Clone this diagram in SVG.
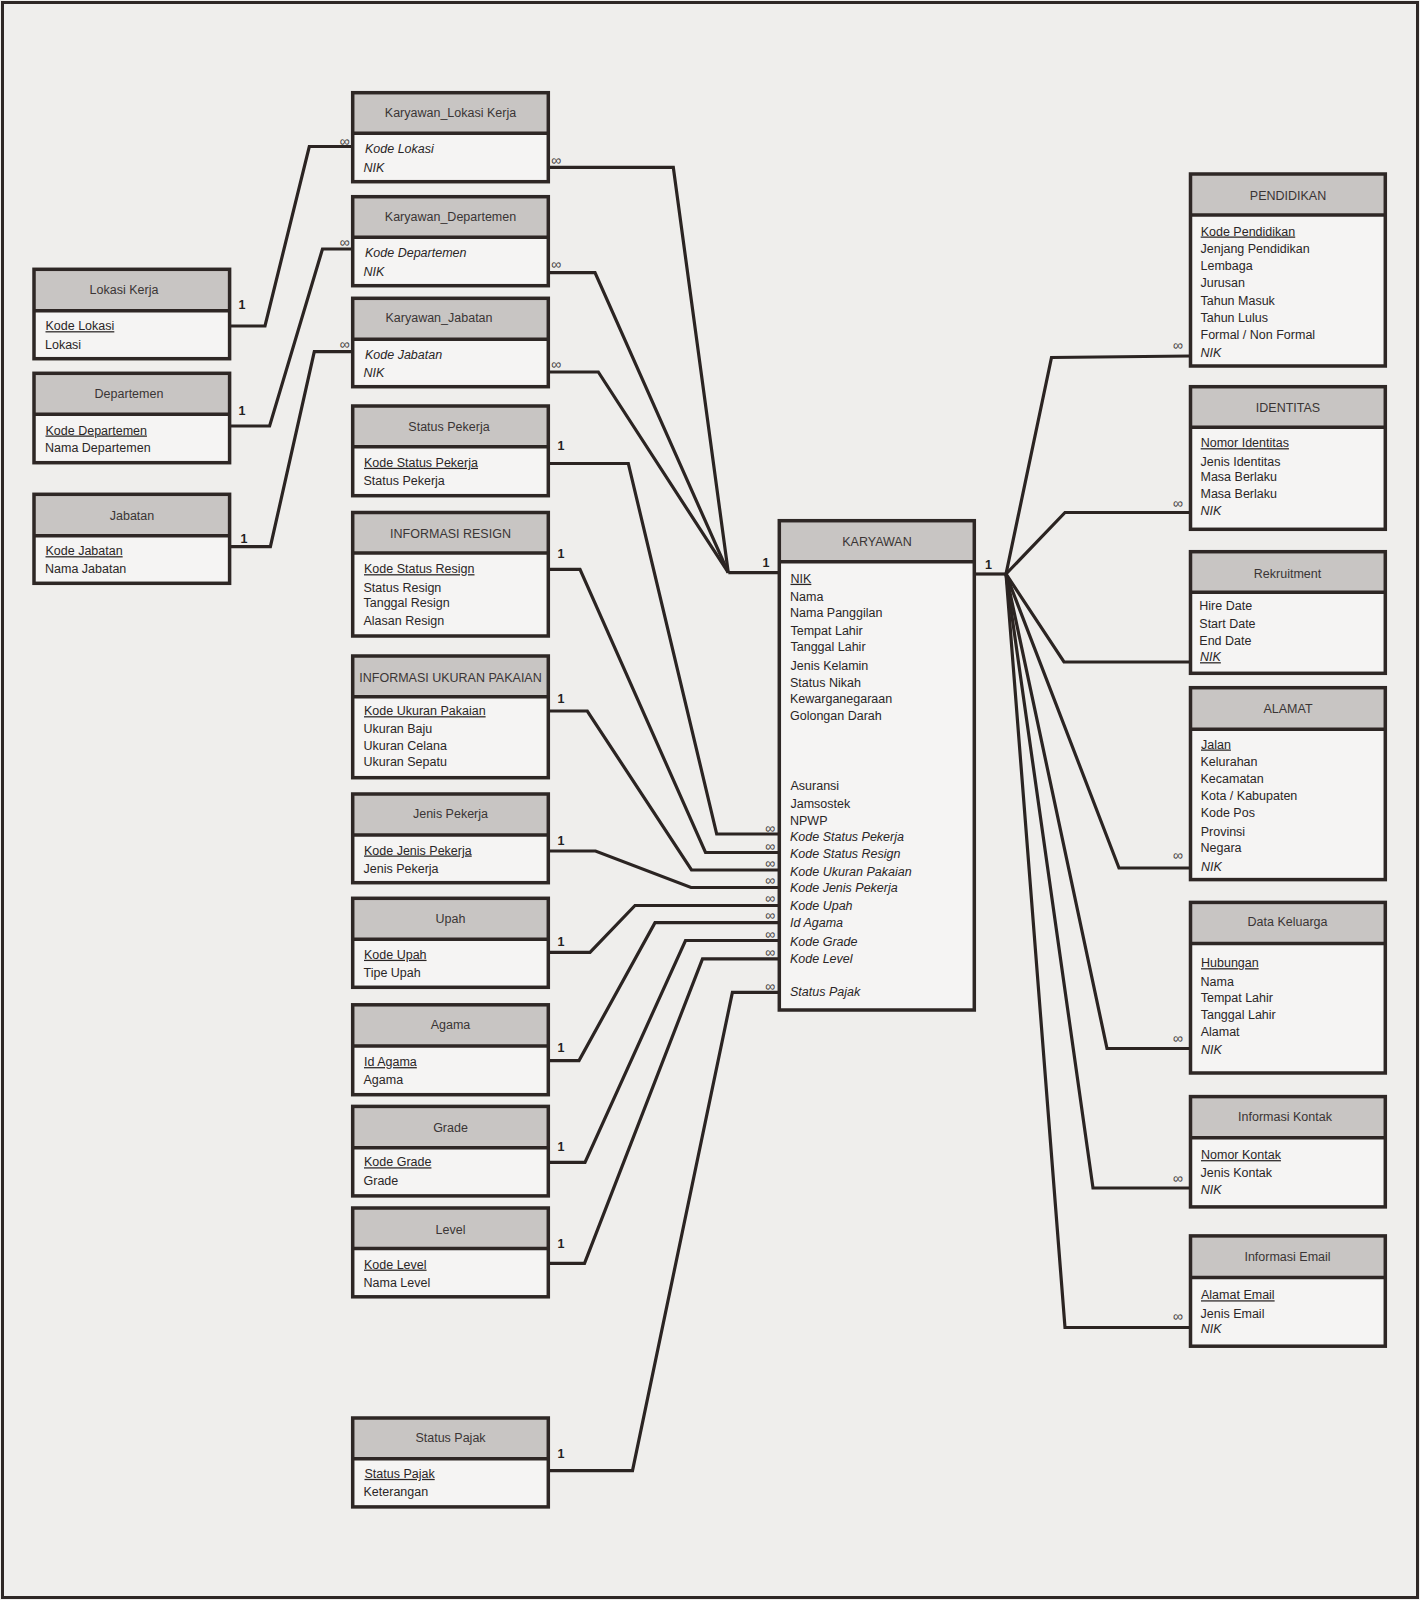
<svg xmlns="http://www.w3.org/2000/svg" width="1420" height="1600" viewBox="0 0 1420 1600">
<style>
.bg{fill:#efeeec}
.frame{fill:none;stroke:#2e2725;stroke-width:3}
.body{fill:#f5f4f3}
.hd{fill:#c8c5c3}
.ol{fill:none;stroke:#2e2725;stroke-width:3.5}
.dv{stroke:#2e2725;stroke-width:3.5}
text{font-family:"Liberation Sans",Arial,sans-serif;font-size:12.5px;fill:#2a2626}
.h{fill:#3a3535;text-anchor:middle}
.i{font-style:italic}
.u{text-decoration:underline}
.c{fill:none;stroke:#2b2422;stroke-width:3.2;stroke-linejoin:miter}
.one{font-weight:bold;font-size:12.5px;text-anchor:middle;fill:#222}
.inf{font-family:"Liberation Sans",Arial,sans-serif;font-size:14px;text-anchor:middle;fill:#4a4545}
</style>
<rect class="bg" x="0" y="0" width="1420" height="1600"/>
<rect class="frame" x="2.5" y="2.5" width="1415" height="1595"/>

<g id="connectors">
<polyline class="c" points="229.6,326 265,326 309.3,146.5 352.7,146.5"/>
<polyline class="c" points="229.6,426 269.6,426 322.5,249 352.7,249"/>
<polyline class="c" points="229.6,546.7 270.4,546.7 314.3,351.7 352.7,351.7"/>
<polyline class="c" points="548.3,167.3 673.3,167.3 728.3,572.7"/>
<polyline class="c" points="548.3,272.7 595,272.7 728.3,572.7"/>
<polyline class="c" points="548.3,372 598.3,372 728.3,572.7"/>
<polyline class="c" points="728.3,572.7 779.3,572.7"/>
<polyline class="c" points="548.3,463.5 628.3,463.5 716.7,834 779.3,834"/>
<polyline class="c" points="548.3,569.3 580,569.3 705.5,852.5 779.3,852.5"/>
<polyline class="c" points="548.3,711 587.3,711 691.5,870 779.3,870"/>
<polyline class="c" points="548.3,851 595.5,851 691,887.5 779.3,887.5"/>
<polyline class="c" points="548.3,952.3 590,952.3 635,905.5 779.3,905.5"/>
<polyline class="c" points="548.3,1060.6 579,1060.6 655,922.7 779.3,922.7"/>
<polyline class="c" points="548.3,1162.3 585,1162.3 685.5,940.5 779.3,940.5"/>
<polyline class="c" points="548.3,1263.3 584.5,1263.3 702.5,958.8 779.3,958.8"/>
<polyline class="c" points="548.3,1470.7 632.5,1470.7 732.4,992.3 779.3,992.3"/>
<polyline class="c" points="974.3,574 1006,574"/>
<polyline class="c" points="1006,574 1051.5,357.5 1190.5,356"/>
<polyline class="c" points="1006,574 1065,512.5 1190.5,512.5"/>
<polyline class="c" points="1006,574 1064,662 1190.5,662"/>
<polyline class="c" points="1006,574 1119,868 1190.5,868"/>
<polyline class="c" points="1006,574 1107,1048.5 1190.5,1048.5"/>
<polyline class="c" points="1006,574 1093,1188 1190.5,1188"/>
<polyline class="c" points="1006,574 1065,1327.5 1190.5,1327.5"/>
<text class="one" x="242" y="308.5">1</text>
<text class="one" x="242" y="414.5">1</text>
<text class="one" x="244" y="542.5">1</text>
<text class="inf" x="344.6" y="146">∞</text>
<text class="inf" x="344.6" y="246.5">∞</text>
<text class="inf" x="344.6" y="348.5">∞</text>
<text class="inf" x="556" y="164.5">∞</text>
<text class="inf" x="556" y="268.5">∞</text>
<text class="inf" x="556" y="368.5">∞</text>
<text class="one" x="561" y="450">1</text>
<text class="one" x="561" y="557.5">1</text>
<text class="one" x="561" y="703">1</text>
<text class="one" x="561" y="845">1</text>
<text class="one" x="561" y="945.5">1</text>
<text class="one" x="561" y="1051.5">1</text>
<text class="one" x="561" y="1150.5">1</text>
<text class="one" x="561" y="1247.5">1</text>
<text class="one" x="561" y="1457.5">1</text>
<text class="one" x="766" y="567">1</text>
<text class="one" x="988.5" y="568.5">1</text>
<text class="inf" x="770" y="832.5">∞</text>
<text class="inf" x="770" y="851">∞</text>
<text class="inf" x="770" y="868">∞</text>
<text class="inf" x="770" y="884.5">∞</text>
<text class="inf" x="770" y="902.5">∞</text>
<text class="inf" x="770" y="920">∞</text>
<text class="inf" x="770" y="939">∞</text>
<text class="inf" x="770" y="957">∞</text>
<text class="inf" x="770" y="990.5">∞</text>
<text class="inf" x="1177.7" y="350">∞</text>
<text class="inf" x="1177.7" y="507.5">∞</text>
<text class="inf" x="1177.7" y="859.5">∞</text>
<text class="inf" x="1177.7" y="1043">∞</text>
<text class="inf" x="1177.7" y="1182.5">∞</text>
<text class="inf" x="1177.7" y="1320.5">∞</text>
</g>

<g id="lokasi-kerja">
<rect class="body" x="34" y="269.3" width="195.6" height="89.4"/>
<rect class="hd" x="34" y="269.3" width="195.6" height="41.4"/>
<line class="dv" x1="34" y1="310.7" x2="229.6" y2="310.7"/>
<rect class="ol" x="34" y="269.3" width="195.6" height="89.4"/>
<text class="h" x="124" y="294">Lokasi Kerja</text>
<text class="u" x="45.5" y="330.2">Kode Lokasi</text>
<text x="45" y="348.5">Lokasi</text>
</g>

<g id="departemen">
<rect class="body" x="34" y="373.3" width="195.6" height="89.4"/>
<rect class="hd" x="34" y="373.3" width="195.6" height="41"/>
<line class="dv" x1="34" y1="414.3" x2="229.6" y2="414.3"/>
<rect class="ol" x="34" y="373.3" width="195.6" height="89.4"/>
<text class="h" x="129" y="398">Departemen</text>
<text class="u" x="45.5" y="434.5">Kode Departemen</text>
<text x="45" y="452.2">Nama Departemen</text>
</g>

<g id="jabatan">
<rect class="body" x="34" y="494.3" width="195.6" height="89"/>
<rect class="hd" x="34" y="494.3" width="195.6" height="41.4"/>
<line class="dv" x1="34" y1="535.7" x2="229.6" y2="535.7"/>
<rect class="ol" x="34" y="494.3" width="195.6" height="89"/>
<text class="h" x="132" y="519.5">Jabatan</text>
<text class="u" x="45.5" y="555.2">Kode Jabatan</text>
<text x="45" y="573.2">Nama Jabatan</text>
</g>

<g id="karyawan-lokasi-kerja">
<rect class="body" x="352.7" y="92.7" width="195.6" height="89"/>
<rect class="hd" x="352.7" y="92.7" width="195.6" height="40.6"/>
<line class="dv" x1="352.7" y1="133.3" x2="548.3" y2="133.3"/>
<rect class="ol" x="352.7" y="92.7" width="195.6" height="89"/>
<text class="h" x="450.5" y="117.2">Karyawan_Lokasi Kerja</text>
<text class="i" x="365" y="153.2">Kode Lokasi</text>
<text class="i" x="363.5" y="171.5">NIK</text>
</g>

<g id="karyawan-departemen">
<rect class="body" x="352.7" y="196.7" width="195.6" height="89"/>
<rect class="hd" x="352.7" y="196.7" width="195.6" height="40.6"/>
<line class="dv" x1="352.7" y1="237.3" x2="548.3" y2="237.3"/>
<rect class="ol" x="352.7" y="196.7" width="195.6" height="89"/>
<text class="h" x="450.5" y="221.2">Karyawan_Departemen</text>
<text class="i" x="365" y="257.2">Kode Departemen</text>
<text class="i" x="363.5" y="275.5">NIK</text>
</g>

<g id="karyawan-jabatan">
<rect class="body" x="352.7" y="298.3" width="195.6" height="88.4"/>
<rect class="hd" x="352.7" y="298.3" width="195.6" height="41"/>
<line class="dv" x1="352.7" y1="339.3" x2="548.3" y2="339.3"/>
<rect class="ol" x="352.7" y="298.3" width="195.6" height="88.4"/>
<text class="h" x="439" y="322.2">Karyawan_Jabatan</text>
<text class="i" x="365" y="358.5">Kode Jabatan</text>
<text class="i" x="363.5" y="376.5">NIK</text>
</g>

<g id="status-pekerja">
<rect class="body" x="352.7" y="406" width="195.6" height="89.7"/>
<rect class="hd" x="352.7" y="406" width="195.6" height="40.7"/>
<line class="dv" x1="352.7" y1="446.7" x2="548.3" y2="446.7"/>
<rect class="ol" x="352.7" y="406" width="195.6" height="89.7"/>
<text class="h" x="449" y="430.5">Status Pekerja</text>
<text class="u" x="364" y="466.8">Kode Status Pekerja</text>
<text x="363.5" y="484.5">Status Pekerja</text>
</g>

<g id="informasi-resign">
<rect class="body" x="352.7" y="512.5" width="195.6" height="123.5"/>
<rect class="hd" x="352.7" y="512.5" width="195.6" height="40.5"/>
<line class="dv" x1="352.7" y1="553" x2="548.3" y2="553"/>
<rect class="ol" x="352.7" y="512.5" width="195.6" height="123.5"/>
<text class="h" x="450.5" y="537.8">INFORMASI RESIGN</text>
<text class="u" x="364" y="573.2">Kode Status Resign</text>
<text x="363.5" y="591.8">Status Resign</text>
<text x="363.5" y="607.2">Tanggal Resign</text>
<text x="363.5" y="624.5">Alasan Resign</text>
</g>

<g id="informasi-ukuran-pakaian">
<rect class="body" x="352.7" y="656" width="195.6" height="121.7"/>
<rect class="hd" x="352.7" y="656" width="195.6" height="40.7"/>
<line class="dv" x1="352.7" y1="696.7" x2="548.3" y2="696.7"/>
<rect class="ol" x="352.7" y="656" width="195.6" height="121.7"/>
<text class="h" x="450.5" y="681.8">INFORMASI UKURAN PAKAIAN</text>
<text class="u" x="364" y="715.2">Kode Ukuran Pakaian</text>
<text x="363.5" y="733.2">Ukuran Baju</text>
<text x="363.5" y="749.5">Ukuran Celana</text>
<text x="363.5" y="766.2">Ukuran Sepatu</text>
</g>

<g id="jenis-pekerja">
<rect class="body" x="352.7" y="794" width="195.6" height="88.7"/>
<rect class="hd" x="352.7" y="794" width="195.6" height="41"/>
<line class="dv" x1="352.7" y1="835" x2="548.3" y2="835"/>
<rect class="ol" x="352.7" y="794" width="195.6" height="88.7"/>
<text class="h" x="450.5" y="817.8">Jenis Pekerja</text>
<text class="u" x="364" y="854.5">Kode Jenis Pekerja</text>
<text x="363.5" y="872.8">Jenis Pekerja</text>
</g>

<g id="upah">
<rect class="body" x="352.7" y="898.3" width="195.6" height="89"/>
<rect class="hd" x="352.7" y="898.3" width="195.6" height="41"/>
<line class="dv" x1="352.7" y1="939.3" x2="548.3" y2="939.3"/>
<rect class="ol" x="352.7" y="898.3" width="195.6" height="89"/>
<text class="h" x="450.5" y="922.8">Upah</text>
<text class="u" x="364" y="958.8">Kode Upah</text>
<text x="363.5" y="977.2">Tipe Upah</text>
</g>

<g id="agama">
<rect class="body" x="352.7" y="1004.8" width="195.6" height="89.9"/>
<rect class="hd" x="352.7" y="1004.8" width="195.6" height="41.3"/>
<line class="dv" x1="352.7" y1="1046.1" x2="548.3" y2="1046.1"/>
<rect class="ol" x="352.7" y="1004.8" width="195.6" height="89.9"/>
<text class="h" x="450.5" y="1029.3">Agama</text>
<text class="u" x="364" y="1066.1">Id Agama</text>
<text x="363.5" y="1083.7">Agama</text>
</g>

<g id="grade">
<rect class="body" x="352.7" y="1106.4" width="195.6" height="89.5"/>
<rect class="hd" x="352.7" y="1106.4" width="195.6" height="41.3"/>
<line class="dv" x1="352.7" y1="1147.7" x2="548.3" y2="1147.7"/>
<rect class="ol" x="352.7" y="1106.4" width="195.6" height="89.5"/>
<text class="h" x="450.5" y="1131.9">Grade</text>
<text class="u" x="364" y="1166.3">Kode Grade</text>
<text x="363.5" y="1184.9">Grade</text>
</g>

<g id="level">
<rect class="body" x="352.7" y="1208" width="195.6" height="88.8"/>
<rect class="hd" x="352.7" y="1208" width="195.6" height="40.6"/>
<line class="dv" x1="352.7" y1="1248.6" x2="548.3" y2="1248.6"/>
<rect class="ol" x="352.7" y="1208" width="195.6" height="88.8"/>
<text class="h" x="450.5" y="1233.5">Level</text>
<text class="u" x="364" y="1268.6">Kode Level</text>
<text x="363.5" y="1286.5">Nama Level</text>
</g>

<g id="status-pajak">
<rect class="body" x="352.7" y="1418" width="195.6" height="88.9"/>
<rect class="hd" x="352.7" y="1418" width="195.6" height="40.7"/>
<line class="dv" x1="352.7" y1="1458.7" x2="548.3" y2="1458.7"/>
<rect class="ol" x="352.7" y="1418" width="195.6" height="88.9"/>
<text class="h" x="450.5" y="1441.8">Status Pajak</text>
<text class="u" x="364.5" y="1477.9">Status Pajak</text>
<text x="363.5" y="1495.9">Keterangan</text>
</g>

<g id="karyawan">
<rect class="body" x="779.3" y="520.7" width="195" height="489.3"/>
<rect class="hd" x="779.3" y="520.7" width="195" height="41"/>
<line class="dv" x1="779.3" y1="561.7" x2="974.3" y2="561.7"/>
<rect class="ol" x="779.3" y="520.7" width="195" height="489.3"/>
<text class="h" x="877" y="546.2">KARYAWAN</text>
<text class="u" x="790.5" y="582.8">NIK</text>
<text x="790" y="601.2">Nama</text>
<text x="790" y="616.5">Nama Panggilan</text>
<text x="790.5" y="634.5">Tempat Lahir</text>
<text x="790.5" y="651.2">Tanggal Lahir</text>
<text x="790.5" y="670.2">Jenis Kelamin</text>
<text x="790" y="687.2">Status Nikah</text>
<text x="790" y="702.8">Kewarganegaraan</text>
<text x="790" y="719.8">Golongan Darah</text>
<text x="790.5" y="790.2">Asuransi</text>
<text x="790.5" y="807.8">Jamsostek</text>
<text x="790" y="825.2">NPWP</text>
<text class="i" x="790" y="841.2">Kode Status Pekerja</text>
<text class="i" x="790" y="857.8">Kode Status Resign</text>
<text class="i" x="790" y="876.2">Kode Ukuran Pakaian</text>
<text class="i" x="790" y="892.2">Kode Jenis Pekerja</text>
<text class="i" x="790" y="910.2">Kode Upah</text>
<text class="i" x="790" y="926.8">Id Agama</text>
<text class="i" x="790" y="945.5">Kode Grade</text>
<text class="i" x="790" y="962.8">Kode Level</text>
<text class="i" x="790" y="996.2">Status Pajak</text>
</g>

<g id="pendidikan">
<rect class="body" x="1190.5" y="174" width="194.8" height="192"/>
<rect class="hd" x="1190.5" y="174" width="194.8" height="41"/>
<line class="dv" x1="1190.5" y1="215" x2="1385.3" y2="215"/>
<rect class="ol" x="1190.5" y="174" width="194.8" height="192"/>
<text class="h" x="1288" y="199.5">PENDIDIKAN</text>
<text class="u" x="1200.7" y="235.5">Kode Pendidikan</text>
<text x="1200.5" y="253.2">Jenjang Pendidikan</text>
<text x="1200.5" y="269.8">Lembaga</text>
<text x="1200.5" y="287.2">Jurusan</text>
<text x="1200.5" y="304.5">Tahun Masuk</text>
<text x="1200.5" y="322.2">Tahun Lulus</text>
<text x="1200.5" y="338.5">Formal / Non Formal</text>
<text class="i" x="1200.5" y="356.8">NIK</text>
</g>

<g id="identitas">
<rect class="body" x="1190.5" y="386.7" width="194.8" height="142.6"/>
<rect class="hd" x="1190.5" y="386.7" width="194.8" height="40.6"/>
<line class="dv" x1="1190.5" y1="427.3" x2="1385.3" y2="427.3"/>
<rect class="ol" x="1190.5" y="386.7" width="194.8" height="142.6"/>
<text class="h" x="1288" y="411.8">IDENTITAS</text>
<text class="u" x="1200.7" y="447.2">Nomor Identitas</text>
<text x="1200.5" y="465.5">Jenis Identitas</text>
<text x="1200.5" y="481.2">Masa Berlaku</text>
<text x="1200.5" y="497.8">Masa Berlaku</text>
<text class="i" x="1200.5" y="515.2">NIK</text>
</g>

<g id="rekruitment">
<rect class="body" x="1190.5" y="551.7" width="194.8" height="121.6"/>
<rect class="hd" x="1190.5" y="551.7" width="194.8" height="40.6"/>
<line class="dv" x1="1190.5" y1="592.3" x2="1385.3" y2="592.3"/>
<rect class="ol" x="1190.5" y="551.7" width="194.8" height="121.6"/>
<text class="h" x="1287.5" y="577.8">Rekruitment</text>
<text x="1199.3" y="610.2">Hire Date</text>
<text x="1199.3" y="627.8">Start Date</text>
<text x="1199.3" y="644.5">End Date</text>
<text class="i u" x="1200" y="661.2">NIK</text>
</g>

<g id="alamat">
<rect class="body" x="1190.5" y="687.7" width="194.8" height="191.9"/>
<rect class="hd" x="1190.5" y="687.7" width="194.8" height="41.5"/>
<line class="dv" x1="1190.5" y1="729.2" x2="1385.3" y2="729.2"/>
<rect class="ol" x="1190.5" y="687.7" width="194.8" height="191.9"/>
<text class="h" x="1288" y="712.7">ALAMAT</text>
<text class="u" x="1201" y="748.5">Jalan</text>
<text x="1200.5" y="766.3">Kelurahan</text>
<text x="1200.5" y="782.8">Kecamatan</text>
<text x="1200.7" y="799.8">Kota / Kabupaten</text>
<text x="1200.7" y="817.2">Kode Pos</text>
<text x="1200.7" y="835.5">Provinsi</text>
<text x="1200.5" y="852">Negara</text>
<text class="i" x="1201" y="870.8">NIK</text>
</g>

<g id="data-keluarga">
<rect class="body" x="1190.5" y="902.4" width="194.8" height="170.6"/>
<rect class="hd" x="1190.5" y="902.4" width="194.8" height="41.1"/>
<line class="dv" x1="1190.5" y1="943.5" x2="1385.3" y2="943.5"/>
<rect class="ol" x="1190.5" y="902.4" width="194.8" height="170.6"/>
<text class="h" x="1287.5" y="925.7">Data Keluarga</text>
<text class="u" x="1201" y="967.2">Hubungan</text>
<text x="1200.5" y="985.9">Nama</text>
<text x="1200.7" y="1001.5">Tempat Lahir</text>
<text x="1200.7" y="1018.5">Tanggal Lahir</text>
<text x="1200.7" y="1035.9">Alamat</text>
<text class="i" x="1201" y="1054.2">NIK</text>
</g>

<g id="informasi-kontak">
<rect class="body" x="1190.5" y="1096.6" width="194.8" height="110.3"/>
<rect class="hd" x="1190.5" y="1096.6" width="194.8" height="41.1"/>
<line class="dv" x1="1190.5" y1="1137.7" x2="1385.3" y2="1137.7"/>
<rect class="ol" x="1190.5" y="1096.6" width="194.8" height="110.3"/>
<text class="h" x="1285" y="1121.2">Informasi Kontak</text>
<text class="u" x="1201" y="1159.1">Nomor Kontak</text>
<text x="1200.5" y="1177">Jenis Kontak</text>
<text class="i" x="1200.7" y="1193.5">NIK</text>
</g>

<g id="informasi-email">
<rect class="body" x="1190.5" y="1235.9" width="194.8" height="110.3"/>
<rect class="hd" x="1190.5" y="1235.9" width="194.8" height="41.5"/>
<line class="dv" x1="1190.5" y1="1277.4" x2="1385.3" y2="1277.4"/>
<rect class="ol" x="1190.5" y="1235.9" width="194.8" height="110.3"/>
<text class="h" x="1287.5" y="1261.4">Informasi Email</text>
<text class="u" x="1201" y="1299.3">Alamat Email</text>
<text x="1200.5" y="1317.6">Jenis Email</text>
<text class="i" x="1200.7" y="1332.8">NIK</text>
</g>
</svg>
